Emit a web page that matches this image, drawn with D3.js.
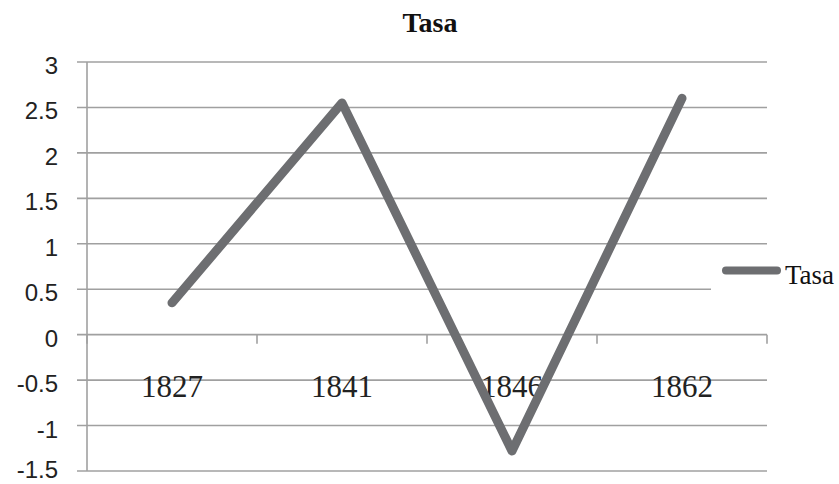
<!DOCTYPE html>
<html>
<head>
<meta charset="utf-8">
<script src="https://cdn.jsdelivr.net/npm/d3@7"></script>
<style>
  body { margin: 0; background: #fff; }
  svg { display: block; }
</style>
</head>
<body>
<div id="root"></div>
<script>
// data
const years = ['1827', '1841', '1846', '1862'];
const tasa = [0.35, 2.55, -1.28, 2.6];
const yTicks = [3, 2.5, 2, 1.5, 1, 0.5, 0, -0.5, -1, -1.5];
const seriesName = 'Tasa';

const width = 839, height = 484;
const margin = { left: 87, right: 72, top: 62, bottom: 13 };
const gridColor = '#a0a0a0';
const lineColor = '#6d6e71';

const svg = d3.select('#root').append('svg')
  .attr('width', width)
  .attr('height', height);

const x = d3.scaleBand()
  .domain(years)
  .range([margin.left, width - margin.right]);

const y = d3.scaleLinear()
  .domain([-1.5, 3])
  .range([height - margin.bottom, margin.top]);

// title
svg.append('text')
  .attr('x', 430)
  .attr('y', 32)
  .attr('text-anchor', 'middle')
  .style('font-family', '"Liberation Serif", serif')
  .style('font-weight', 'bold')
  .style('font-size', '28px')
  .style('fill', '#111')
  .text('Tasa');

// gridlines + left ticks
svg.append('g').selectAll('line')
  .data(yTicks)
  .join('line')
  .attr('x1', margin.left - 10)
  .attr('x2', width - margin.right)
  .attr('y1', d => y(d))
  .attr('y2', d => y(d))
  .style('stroke', gridColor)
  .style('stroke-width', 1.6);

// y labels (bottom one kept inside the frame)
svg.append('g').selectAll('text')
  .data(yTicks)
  .join('text')
  .attr('x', 58)
  .attr('y', d => Math.min(y(d) + 12, height - 6))
  .attr('text-anchor', 'end')
  .style('font-family', '"Liberation Sans", sans-serif')
  .style('font-size', '24px')
  .style('fill', '#222')
  .text(d => d);

// left axis line
svg.append('line')
  .attr('x1', margin.left).attr('x2', margin.left)
  .attr('y1', y(3)).attr('y2', y(-1.5))
  .style('stroke', gridColor)
  .style('stroke-width', 1.6);

// category axis at zero with ticks on band edges
const edges = years.map(d => x(d)).concat([x.range()[1]]);
svg.append('g').selectAll('line')
  .data(edges)
  .join('line')
  .attr('x1', d => d).attr('x2', d => d)
  .attr('y1', y(0)).attr('y2', y(0) + 9)
  .style('stroke', gridColor)
  .style('stroke-width', 1.6);

svg.append('g').selectAll('text')
  .data(years)
  .join('text')
  .attr('x', d => x(d) + x.bandwidth() / 2)
  .attr('y', 397)
  .attr('text-anchor', 'middle')
  .style('font-family', '"Liberation Serif", serif')
  .style('font-size', '31px')
  .style('fill', '#222')
  .text(d => d);

// legend background covers gridline
svg.append('rect')
  .attr('x', 711).attr('y', 252)
  .attr('width', 128).attr('height', 40)
  .style('fill', '#fff');

// series line
const line = d3.line()
  .x((d, i) => x(years[i]) + x.bandwidth() / 2)
  .y(d => y(d));

svg.append('path')
  .datum(tasa)
  .attr('d', line)
  .style('fill', 'none')
  .style('stroke', lineColor)
  .style('stroke-width', 9)
  .style('stroke-linecap', 'round')
  .style('stroke-linejoin', 'round');

// legend
svg.append('line')
  .attr('x1', 726).attr('x2', 777)
  .attr('y1', 270.5).attr('y2', 270.5)
  .style('stroke', lineColor)
  .style('stroke-width', 8)
  .style('stroke-linecap', 'round');

svg.append('text')
  .attr('x', 785)
  .attr('y', 284)
  .style('font-family', '"Liberation Serif", serif')
  .style('font-size', '27px')
  .style('fill', '#111')
  .text(seriesName);
</script>
</body>
</html>
